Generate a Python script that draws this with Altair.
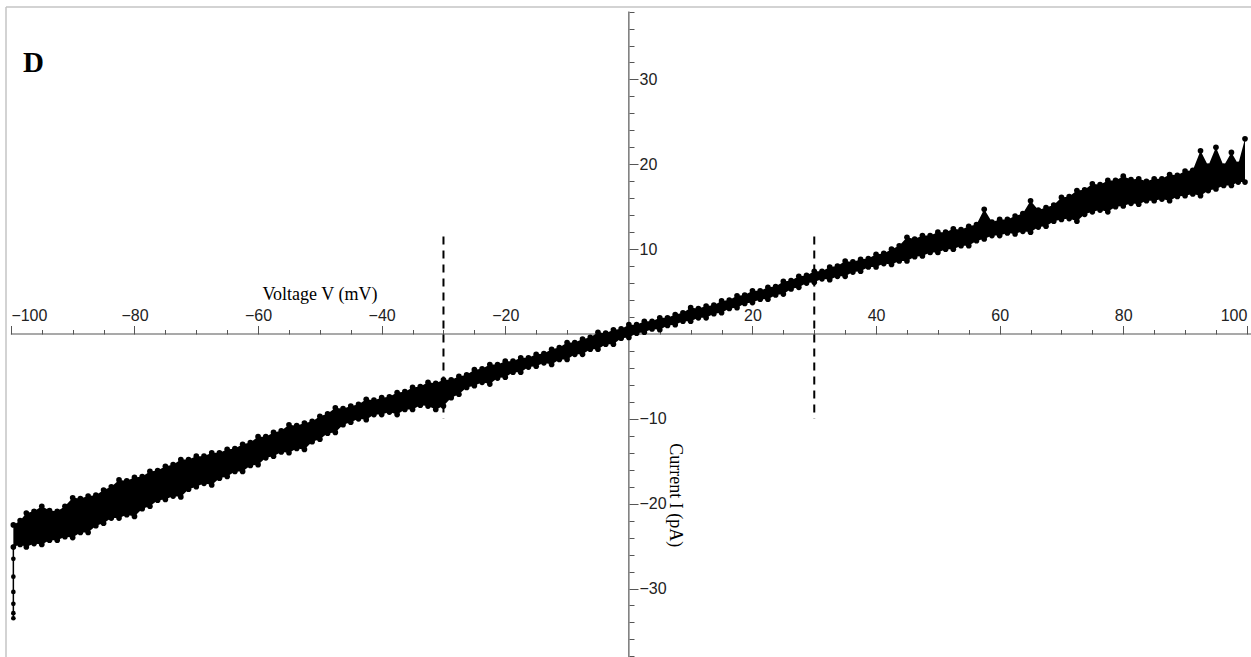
import altair as alt
import pandas as pd

# ---- data -----------------------------------------------------------------
volt = [-99.6, -98.5, -97.5, -96.25, -95, -93.75, -92.5, -91.25, -90, -88.75,
        -87.5, -86.25, -85, -83.75, -82.5, -81.25, -80, -78.75, -77.5, -76.25,
        -75, -73.75, -72.5, -71.25, -70, -68.75, -67.5, -66.25, -65, -63.75,
        -62.5, -61.25, -60, -58.75, -57.5, -56.25, -55, -53.75, -52.5, -51.25,
        -50, -48.75, -47.5, -46.25, -45, -43.75, -42.5, -41.25, -40, -38.75,
        -37.5, -36.25, -35, -33.75, -32.5, -31.25, -30, -28.75, -27.5, -26.25,
        -25, -23.75, -22.5, -21.25, -20, -18.75, -17.5, -16.25, -15, -13.75,
        -12.5, -11.25, -10, -8.75, -7.5, -6.25, -5, -3.75, -2.5, -1.25, 0,
        1.25, 2.5, 3.75, 5, 6.25, 7.5, 8.75, 10, 11.25, 12.5, 13.75, 15, 16.25,
        17.5, 18.75, 20, 21.25, 22.5, 23.75, 25, 26.25, 27.5, 28.75, 30, 31.25,
        32.5, 33.75, 35, 36.25, 37.5, 38.75, 40, 41.25, 42.5, 43.75, 45, 46.25,
        47.5, 48.75, 50, 51.25, 52.5, 53.75, 55, 56.25, 57.5, 58.75, 60, 61.25,
        62.5, 63.75, 65, 66.25, 67.5, 68.75, 70, 71.25, 72.5, 73.75, 75, 76.25,
        77.5, 78.75, 80, 81.25, 82.5, 83.75, 85, 86.25, 87.5, 88.75, 90, 91.25,
        92.5, 93.75, 95, 96.25, 97.5, 98.6, 99.7]
i_upper = [-22.5, -22.0, -21.1, -20.9, -20.3, -20.8, -20.9, -20.3, -19.3, -19.4,
           -19.1, -19.0, -18.4, -18.0, -17.2, -17.3, -16.9, -16.8, -16.2, -16.1,
           -15.6, -15.4, -14.8, -14.8, -14.4, -14.4, -14.0, -14.0, -13.6, -13.5,
           -13.0, -12.8, -12.1, -12.1, -11.6, -11.4, -10.7, -10.8, -10.5, -10.3,
           -9.7, -9.4, -8.7, -8.8, -8.5, -8.3, -7.7, -7.8, -7.5, -7.4,
           -6.9, -6.8, -6.3, -6.2, -5.7, -5.8, -5.4, -5.4, -5.0, -4.8,
           -4.2, -4.1, -3.6, -3.6, -3.2, -3.2, -2.8, -2.8, -2.4, -2.3,
           -1.8, -1.6, -1.0, -1.0, -0.6, -0.4, 0.2, 0.1, 0.5, 0.6,
           1.1, 1.1, 1.5, 1.5, 1.9, 1.9, 2.3, 2.5, 3.1, 3.0,
           3.3, 3.4, 3.9, 4.0, 4.5, 4.6, 5.1, 5.1, 5.5, 5.6,
           6.2, 6.3, 6.8, 6.9, 7.4, 7.4, 7.9, 8.0, 8.6, 8.5,
           8.8, 8.9, 9.4, 9.5, 10.0, 10.4, 11.4, 11.2, 11.6, 11.6,
           12.0, 12.0, 12.4, 12.3, 12.7, 12.9, 14.7, 13.2, 13.5, 13.5,
           13.9, 14.2, 15.7, 14.6, 14.9, 15.2, 16.1, 16.2, 16.9, 17.0,
           17.7, 17.6, 18.1, 18.1, 18.6, 18.2, 18.3, 18.0, 18.3, 18.3,
           18.8, 18.7, 19.2, 19.3, 21.6, 19.8, 22.0, 19.8, 21.4, 20.0,
           23.0]
i_lower = [-25.1, -24.8, -25.1, -24.7, -24.8, -24.3, -24.3, -23.9, -24.0, -23.4,
           -23.4, -22.6, -22.3, -21.7, -21.7, -21.3, -21.5, -20.6, -20.3, -19.6,
           -19.5, -19.1, -19.2, -18.3, -18.0, -17.6, -17.8, -17.0, -16.8, -16.2,
           -16.2, -15.5, -15.4, -14.6, -14.4, -13.9, -14.0, -13.5, -13.6, -12.7,
           -12.4, -11.7, -11.6, -10.7, -10.4, -10.0, -10.1, -9.5, -9.5, -9.2,
           -9.5, -8.9, -8.9, -8.4, -8.5, -8.9, -8.5, -7.5, -7.1, -6.3,
           -6.1, -5.7, -5.9, -5.2, -5.1, -4.5, -4.5, -3.9, -3.8, -3.4,
           -3.6, -3.0, -3.0, -2.4, -2.4, -1.8, -1.8, -1.2, -1.2, -0.5,
           -0.4, 0.1, 0.2, 0.6, 0.5, 1.0, 1.1, 1.5, 1.5, 1.9,
           1.9, 2.4, 2.5, 3.0, 3.1, 3.6, 3.7, 4.1, 4.1, 4.6,
           4.7, 5.3, 5.5, 6.0, 6.1, 6.5, 6.4, 6.8, 6.8, 7.3,
           7.4, 7.9, 7.9, 8.3, 8.2, 8.6, 8.6, 9.1, 9.2, 9.6,
           9.6, 10.0, 10.0, 10.4, 10.4, 11.0, 11.2, 11.6, 11.6, 11.9,
           11.8, 12.1, 12.0, 12.6, 12.7, 13.3, 13.5, 13.6, 13.3, 14.1,
           14.4, 14.6, 14.4, 15.0, 15.1, 15.4, 15.3, 15.7, 15.7, 15.9,
           15.7, 16.2, 16.3, 16.5, 16.3, 16.9, 17.1, 17.5, 17.5, 17.9,
           17.9]

# capacitive transient at the start of the ramp
spike_v = [-99.6, -99.6, -99.6, -99.6, -99.6, -99.6, -99.6]
spike_i = [-25.1, -26.5, -28.6, -30.4, -31.8, -32.9, -33.5]

# dashed markers
marker_v = [-30, 30]
marker_top = [11.5, 11.5]
marker_bottom = [-10.0, -10.0]

# axis ticks
x_major = [-100, -80, -60, -40, -20, 20, 40, 60, 80, 100]
x_minor = [-95, -90, -85, -75, -70, -65, -55, -50, -45, -35, -30, -25, -15, -10,
           -5, 5, 10, 15, 25, 30, 35, 45, 50, 55, 65, 70, 75, 85, 90, 95]
y_major = [-30, -20, -10, 10, 20, 30]
y_minor = [-38, -36, -34, -32, -28, -26, -24, -22, -18, -16, -14, -12, -8, -6,
           -4, -2, 2, 4, 6, 8, 12, 14, 16, 18, 22, 24, 26, 28, 32, 34, 36, 38]

x_domain = [-100.79, 100.67]
y_domain = [-38.07, 38.54]

# ---- chart ------------------------------------------------------------------
W, H = 1245, 650
xs = alt.Scale(domain=x_domain, nice=False, zero=False)
ys = alt.Scale(domain=y_domain, nice=False, zero=False)

AX_COL = "#555555"
LAB_COL = "#222222"

x_axis_major = alt.Axis(orient="top", offset=-327, values=x_major, domain=False,
                        grid=False, tickSize=8.5, tickWidth=1, tickColor=AX_COL,
                        labelFont="Liberation Sans", labelFontSize=16,
                        labelColor=LAB_COL, labelPadding=2, labelFlush=6,
                        labelOverlap=False, title=None)
x_axis_minor = alt.Axis(orient="top", offset=-327, values=x_minor, domain=False,
                        grid=False, tickSize=4.5, tickWidth=1, tickColor=AX_COL,
                        labels=False, title=None)
y_axis_major = alt.Axis(orient="right", offset=-622, values=y_major, domain=False,
                        grid=False, tickSize=9, tickWidth=1, tickColor=AX_COL,
                        labelFont="Liberation Sans", labelFontSize=16,
                        labelColor=LAB_COL, labelPadding=1, labelOverlap=False,
                        title=None)
y_axis_minor = alt.Axis(orient="right", offset=-622, values=y_minor, domain=False,
                        grid=False, tickSize=5, tickWidth=1, tickColor=AX_COL,
                        labels=False, title=None)

trace = pd.DataFrame({"V": volt, "hi": i_upper, "lo": i_lower})
spike = pd.DataFrame({"V": spike_v, "I": spike_i})
markers = pd.DataFrame({"V": marker_v, "top": marker_top, "bottom": marker_bottom})

# axis lines
xline = alt.Chart(pd.DataFrame({"a": [-100.0], "b": [x_domain[1]], "y": [0]})).mark_rule(
    color=AX_COL, strokeWidth=1.2).encode(
    x=alt.X("a:Q", scale=xs, axis=None), x2="b:Q", y=alt.Y("y:Q", scale=ys, axis=None))
yline = alt.Chart(pd.DataFrame({"x": [0], "a": [38.0], "b": [y_domain[0]]})).mark_rule(
    color=AX_COL, strokeWidth=1.2).encode(
    x=alt.X("x:Q", scale=xs, axis=None), y=alt.Y("a:Q", scale=ys, axis=None), y2="b:Q")

# frame (top + left border of the panel)
frame_top = alt.Chart(pd.DataFrame({"k": [0]})).mark_rule(color="#c4c4c4", strokeWidth=1.5).encode(
    x=alt.value(0), x2=alt.value(W), y=alt.value(0))
frame_left = alt.Chart(pd.DataFrame({"k": [0]})).mark_rule(color="#c4c4c4", strokeWidth=1.5).encode(
    x=alt.value(0), y=alt.value(0), y2=alt.value(H))

dashed = alt.Chart(markers).mark_rule(color="black", strokeWidth=2, strokeDash=[8, 6]).encode(
    x=alt.X("V:Q", scale=xs, axis=None), y=alt.Y("top:Q", scale=ys, axis=None), y2="bottom:Q")

band = alt.Chart(trace).mark_area(color="black", opacity=1).encode(
    x=alt.X("V:Q", scale=xs, axis=x_axis_minor),
    y=alt.Y("lo:Q", scale=ys, axis=y_axis_minor), y2="hi:Q")
up_pts = alt.Chart(trace).mark_circle(color="black", size=32, opacity=1).encode(
    x=alt.X("V:Q", scale=xs, axis=x_axis_major),
    y=alt.Y("hi:Q", scale=ys, axis=y_axis_major))
lo_pts = alt.Chart(trace).mark_circle(color="black", size=32, opacity=1).encode(
    x=alt.X("V:Q", scale=xs, axis=None), y=alt.Y("lo:Q", scale=ys, axis=None))
spike_line = alt.Chart(spike).mark_line(color="black", strokeWidth=1.5, point=alt.OverlayMarkDef(
    filled=True, color="black", size=22)).encode(
    x=alt.X("V:Q", scale=xs, axis=None), y=alt.Y("I:Q", scale=ys, axis=None), order="I:Q")

xtitle = alt.Chart(pd.DataFrame({"V": [-50.0], "I": [4.0], "t": ["Voltage V (mV)"]})).mark_text(
    font="Liberation Serif", fontSize=18, color="black", align="center", baseline="alphabetic").encode(
    x=alt.X("V:Q", scale=xs, axis=None), y=alt.Y("I:Q", scale=ys, axis=None), text="t:N")
ytitle = alt.Chart(pd.DataFrame({"V": [7.5], "I": [-19.0], "t": ["Current I (pA)"]})).mark_text(
    font="Liberation Serif", fontSize=18, color="black", align="center", baseline="middle",
    angle=90).encode(
    x=alt.X("V:Q", scale=xs, axis=None), y=alt.Y("I:Q", scale=ys, axis=None), text="t:N")
panel = alt.Chart(pd.DataFrame({"t": ["D"]})).mark_text(
    font="Liberation Serif", fontSize=29, fontWeight="bold", color="black",
    align="left", baseline="alphabetic").encode(
    x=alt.value(17), y=alt.value(65), text="t:N")

chart = alt.layer(
    frame_top, frame_left, xline, yline, dashed, band, up_pts, lo_pts, spike_line,
    xtitle, ytitle, panel
).resolve_axis(x="independent", y="independent").properties(
    width=W, height=H,
    autosize=alt.AutoSizeParams(type="none"),
    padding={"left": 6, "top": 7, "right": 0, "bottom": 0},
    background="white",
).configure_view(stroke=None)

chart.save("out.html", embed_options={"renderer": "svg", "actions": False})
